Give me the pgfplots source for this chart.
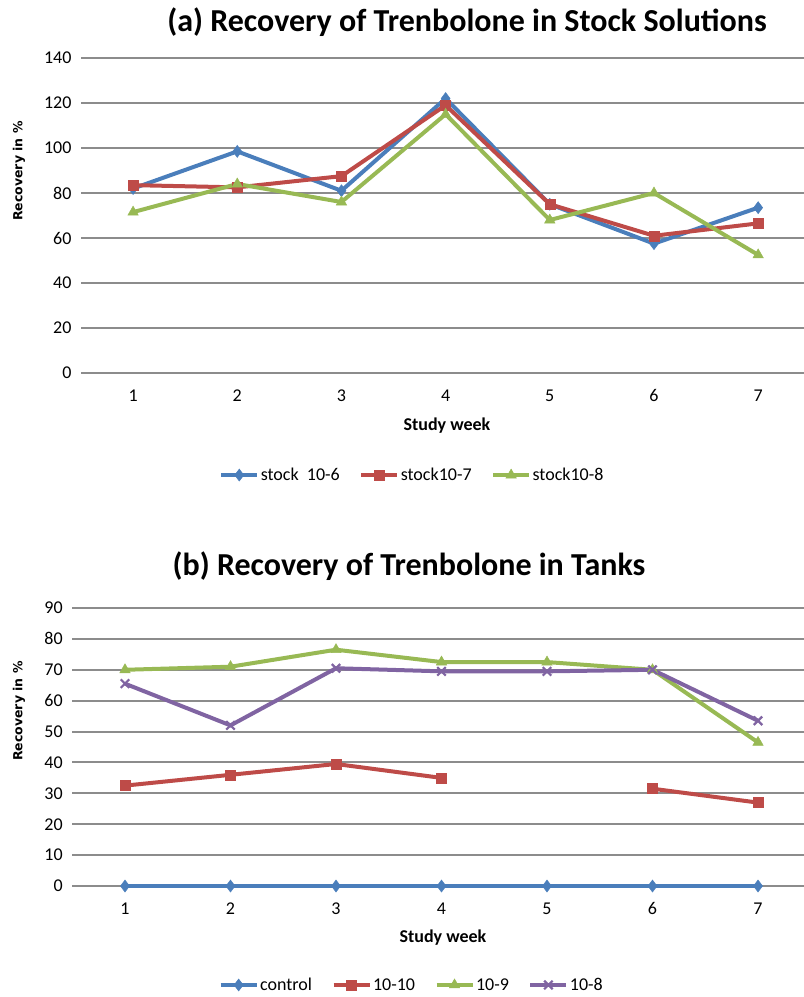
\documentclass[border=0pt]{standalone}
\usepackage{pgfplots}
\pgfplotsset{compat=1.18}
\usepackage{fontspec}
\setmainfont{Carlito}
\newfontfamily\labfont{DejaVu Sans}
\definecolor{cblue}{RGB}{74,126,187}
\definecolor{cred}{RGB}{190,75,72}
\definecolor{cgreen}{RGB}{152,185,84}
\definecolor{cpurple}{RGB}{128,100,162}
\definecolor{cgrid}{RGB}{140,140,140}
\pgfplotsset{
  common/.style={
    scale only axis,
    anchor=south west,
    /pgf/number format/assume math mode=true,
    xtick={1,...,7},
    ymajorgrids,
    major grid style={cgrid, line width=2pt},
    axis line style={draw=none},
    major tick style={draw=none},
    tick label style={font=\fontsize{18}{18}\selectfont},
    xticklabel style={yshift=-13pt},
    yticklabel style={xshift=-6pt},
    clip=false,
    legend columns=-1,
    legend style={draw=none, fill=none, font=\fontsize{18}{18}\selectfont, anchor=center,
      /tikz/every even column/.append style={column sep=18pt},
      inner sep=0pt, nodes={inner sep=1.5pt}},
    legend image code/.code={\draw[mark repeat=2,mark phase=2,##1] plot coordinates {(0pt,0pt) (18pt,0pt) (36pt,0pt)};},
    every axis plot/.append style={line width=4pt},
  },
  sblue/.style={cblue, mark=diamond*, mark size=6pt, mark options={solid, line width=0.5pt}},
  sred/.style={cred, mark=square*, mark size=5pt, mark options={solid, line width=0.5pt}},
  sgreen/.style={cgreen, mark=triangle*, mark size=6pt, mark options={solid, line width=0.5pt}},
  spurple/.style={cpurple, mark=x, mark size=6pt, mark options={solid, line width=2.2pt}},
}
\begin{document}
\begin{tikzpicture}
\useasboundingbox (0pt,0pt) rectangle (804pt,-997pt);
% ---------- (a)
\begin{axis}[common,
  at={(81pt,-373pt)}, width=723pt, height=315pt,
  xmin=0.5, xmax=7.44, ymin=0, ymax=140, ytick={0,20,...,140},
  legend style={at={(axis description cs:0.458,-0.324)}},
]
\addplot[sblue] coordinates {(1,82) (2,98.5) (3,81) (4,122) (5,75) (6,57.5) (7,73.5)};
\addlegendentry{stock\ \ 10-6}
\addplot[sred] coordinates {(1,83.5) (2,82.5) (3,87.5) (4,119) (5,75) (6,61) (7,66.5)};
\addlegendentry{stock10-7}
\addplot[sgreen] coordinates {(1,71.5) (2,84) (3,76) (4,115) (5,68) (6,80) (7,52.5)};
\addlegendentry{stock10-8}
\end{axis}
\node[font=\bfseries\fontsize{32}{32}\selectfont] at (467pt,-22pt) {(a) Recovery of Trenbolone in Stock Solutions};
\node[font=\bfseries\fontsize{18}{18}\selectfont] at (447pt,-426pt) {Study week};
\node[font=\labfont\bfseries\fontsize{12.5}{12.5}\selectfont, rotate=90] at (19pt,-171pt) {Recovery in \%};
% ---------- (b)
\begin{axis}[common,
  at={(72.25pt,-886pt)}, width=731.75pt, height=278pt,
  xmin=0.5, xmax=7.436, ymin=0, ymax=90, ytick={0,10,...,90},
  unbounded coords=jump,
  legend style={at={(axis description cs:0.4636,-0.356)}},
]
\addplot[sblue] coordinates {(1,0) (2,0) (3,0) (4,0) (5,0) (6,0) (7,0)};
\addlegendentry{control}
\addplot[sred] coordinates {(1,32.5) (2,36) (3,39.5) (4,35) (5,nan) (6,31.5) (7,27)};
\addlegendentry{10-10}
\addplot[sgreen] coordinates {(1,70) (2,71) (3,76.5) (4,72.5) (5,72.5) (6,70) (7,46.5)};
\addlegendentry{10-9}
\addplot[spurple] coordinates {(1,65.5) (2,52) (3,70.5) (4,69.5) (5,69.5) (6,70) (7,53.5)};
\addlegendentry{10-8}
\end{axis}
\node[font=\bfseries\fontsize{32}{32}\selectfont] at (409pt,-566pt) {(b) Recovery of Trenbolone in Tanks};
\node[font=\bfseries\fontsize{18}{18}\selectfont] at (443pt,-938pt) {Study week};
\node[font=\labfont\bfseries\fontsize{12.5}{12.5}\selectfont, rotate=90] at (19pt,-711pt) {Recovery in \%};
\end{tikzpicture}
\end{document}
